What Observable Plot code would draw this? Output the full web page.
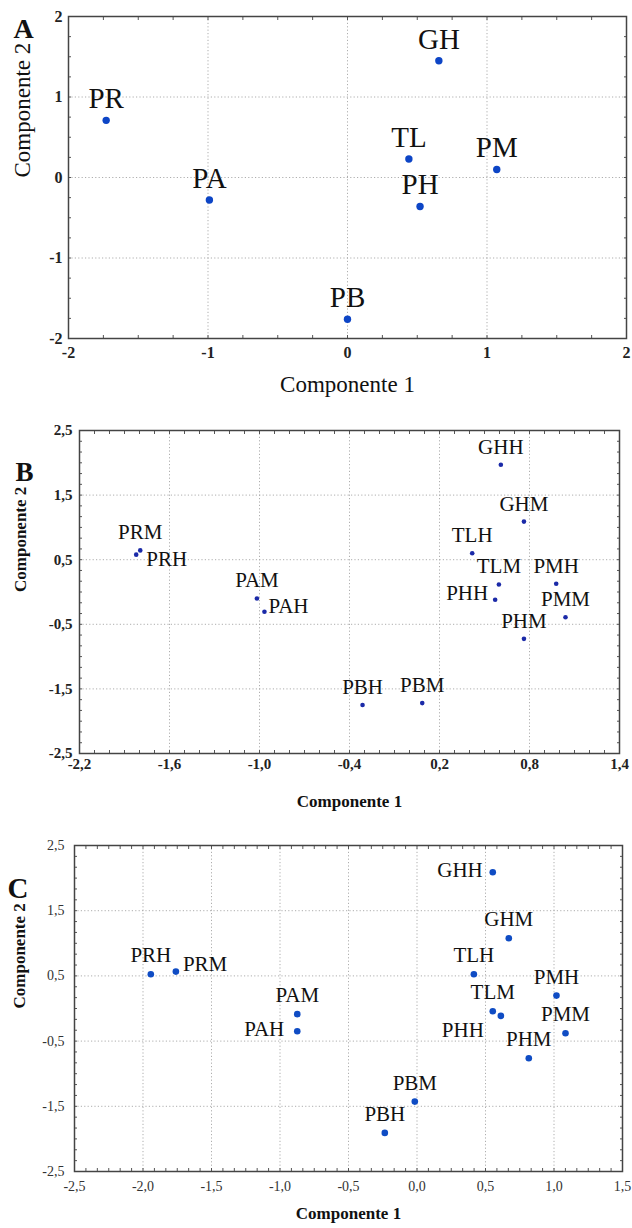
<!DOCTYPE html>
<html>
<head>
<meta charset="utf-8">
<script src="https://cdn.jsdelivr.net/npm/d3@7"></script>
<script src="https://cdn.jsdelivr.net/npm/@observablehq/plot@0.6"></script>
<style>
  html, body { margin: 0; padding: 0; background: #fff; }
  body { width: 632px; height: 1228px; position: relative; overflow: hidden; font-family: "Liberation Serif", "DejaVu Serif", serif; }
  .panel { position: absolute; left: 0; }
  .panel svg { display: block; font-family: "Liberation Serif", serif !important; }
</style>
</head>
<body>
<div id="pa" class="panel" style="top:0px"></div>
<div id="pb" class="panel" style="top:400px"></div>
<div id="pc" class="panel" style="top:815px"></div>
<script>
// ---------- Panel A data ----------
const labelsA = ["PR", "PA", "PB", "TL", "PH", "GH", "PM"];
const comp1A  = [-1.73, -0.99, 0.00, 0.44, 0.52, 0.655, 1.07];
const comp2A  = [0.71, -0.28, -1.76, 0.23, -0.36, 1.45, 0.10];
const ticksXA = [-2, -1, 0, 1, 2];
const ticksYA = [-2, -1, 0, 1, 2];

// ---------- Panel B data ----------
const labelsB = ["PRM", "PRH", "PAM", "PAH", "PBH", "PBM", "TLH", "TLM", "PHH", "PHM", "GHH", "GHM", "PMH", "PMM"];
const comp1B  = [-1.795, -1.822, -1.017, -0.967, -0.313, 0.085, 0.418, 0.596, 0.571, 0.763, 0.609, 0.763, 0.978, 1.04];
const comp2B  = [0.644, 0.578, -0.10, -0.306, -1.75, -1.72, 0.60, 0.117, -0.12, -0.725, 1.97, 1.09, 0.128, -0.39];
const ticksXB = [-2.2, -1.6, -1.0, -0.4, 0.2, 0.8, 1.4];
const ticksYB = [-2.5, -1.5, -0.5, 0.5, 1.5, 2.5];

// ---------- Panel C data ----------
const labelsC = ["PRM", "PRH", "PAM", "PAH", "PBH", "PBM", "TLH", "TLM", "PHH", "PHM", "GHH", "GHM", "PMH", "PMM"];
const comp1C  = [-1.76, -1.943, -0.874, -0.874, -0.235, -0.016, 0.415, 0.553, 0.612, 0.816, 0.553, 0.67, 1.018, 1.084];
const comp2C  = [0.566, 0.526, -0.087, -0.35, -1.908, -1.428, 0.526, -0.042, -0.113, -0.762, 2.09, 1.078, 0.198, -0.379];
const ticksXC = [-2.5, -2.0, -1.5, -1.0, -0.5, 0.0, 0.5, 1.0, 1.5];
const ticksYC = [-2.5, -1.5, -0.5, 0.5, 1.5, 2.5];

const axisTitleX = "Componente 1";
const axisTitleY = "Componente 2";

// ---------- styling (label placement etc.) ----------
const serif = "Liberation Serif";
const placeB = {
  PRH: {textAnchor: "start", dx: 10, dy: 5, lineAnchor: "middle"},
  PAH: {textAnchor: "start", dx: 4, dy: -6, lineAnchor: "middle"},
  PHH: {textAnchor: "end", dx: -7, dy: -6, lineAnchor: "middle"}
};
const placeC = {
  PRM: {textAnchor: "start", dx: 7, dy: -7, lineAnchor: "middle"},
  PAH: {textAnchor: "end", dx: -13, dy: -2, lineAnchor: "middle"},
  GHH: {textAnchor: "end", dx: -10, dy: -2, lineAnchor: "middle"},
  PHH: {textAnchor: "end", dx: -17, dy: 14, lineAnchor: "middle"}
};

const intFmt = d => String(d);
const commaFmt = d => d.toFixed(1).replace(".", ",");

function makePanel(cfg) {
  const rows = cfg.labels.map((n, i) => ({name: n, c1: cfg.c1[i], c2: cfg.c2[i]}));
  const [L, T, R, B] = cfg.margins;
  const labelMarks = rows.map(r => {
    const p = cfg.place[r.name] || {textAnchor: "middle", dx: 0, dy: cfg.aboveDy, lineAnchor: "bottom"};
    return Plot.text([r], {
      x: "c1", y: "c2", text: "name",
      textAnchor: p.textAnchor, lineAnchor: p.lineAnchor, dx: p.dx, dy: p.dy,
      fontSize: cfg.labelSize, fill: "#111", fontFamily: serif
    });
  });
  const minor = {tickSize: -3, tickFormat: () => "", stroke: "#555", label: null};
  return Plot.plot({
    width: 632,
    height: cfg.height,
    marginLeft: L, marginTop: T, marginRight: R, marginBottom: B,
    style: {fontFamily: serif, background: "#fff", overflow: "visible"},
    x: {domain: cfg.xDomain},
    y: {domain: cfg.yDomain},
    marks: [
      Plot.gridX(cfg.xTicks, {stroke: "#9a9a9a", strokeOpacity: 0.8, strokeDasharray: "1.2,2.2", strokeWidth: 1}),
      Plot.gridY(cfg.yTicks, {stroke: "#9a9a9a", strokeOpacity: 0.8, strokeDasharray: "1.2,2.2", strokeWidth: 1}),
      Plot.axisX(cfg.xMinor, {anchor: "bottom", ...minor}),
      Plot.axisX(cfg.xMinor, {anchor: "top", ...minor}),
      Plot.axisY(cfg.yMinor, {anchor: "left", ...minor}),
      Plot.axisY(cfg.yMinor, {anchor: "right", ...minor}),
      Plot.axisX(cfg.xTicks, {anchor: "bottom", tickSize: 0, tickPadding: cfg.xPad, tickFormat: cfg.fmt,
        fontSize: cfg.tickSize, fontWeight: cfg.tickWeight, fontFamily: serif, fill: cfg.tickFill, label: null}),
      Plot.axisY(cfg.yTicks, {anchor: "left", tickSize: 0, tickPadding: cfg.yPad, tickFormat: cfg.fmt,
        fontSize: cfg.tickSize, fontWeight: cfg.tickWeight, fontFamily: serif, fill: cfg.tickFill, label: null}),
      Plot.frame({stroke: "#444", strokeWidth: 1.5}),
      Plot.dot(rows, {x: "c1", y: "c2", r: cfg.dotR, fill: cfg.dotFill, stroke: "none"}),
      ...labelMarks,
      Plot.text([axisTitleX], {frameAnchor: "bottom", lineAnchor: "bottom", dy: cfg.xTitleDy,
        fontSize: cfg.titleSize, fontWeight: cfg.titleWeight, fontFamily: serif, fill: "#111"}),
      Plot.text([axisTitleY], {frameAnchor: "left", lineAnchor: "middle", rotate: -90, dx: cfg.yTitleDx,
        fontSize: cfg.titleSize, fontWeight: cfg.titleWeight, fontFamily: serif, fill: "#111"}),
      Plot.text([cfg.letter], {frameAnchor: "top-left", textAnchor: "start", lineAnchor: "bottom",
        dx: cfg.letterDx, dy: cfg.letterDy, fontSize: cfg.letterSize, fontWeight: "bold", fontFamily: serif, fill: "#111"})
    ]
  });
}

document.getElementById("pa").append(makePanel({
  labels: labelsA, c1: comp1A, c2: comp2A,
  xDomain: [-2, 2], yDomain: [-2, 2], xTicks: ticksXA, yTicks: ticksYA, fmt: intFmt,
  xMinor: d3.range(-2, 2.001, 0.25), yMinor: d3.range(-2, 2.001, 0.25),
  height: 400, margins: [68, 16, 6, 62],
  dotR: 3.7, dotFill: "#0d45c6", labelSize: 29, aboveDy: -12, place: {},
  tickSize: 16, tickWeight: "bold", tickFill: "#222", xPad: 8, yPad: 6,
  titleSize: 23, titleWeight: "normal", xTitleDy: 53, yTitleDx: -46,
  letter: "A", letterDx: -55, letterDy: 21, letterSize: 28
}));

document.getElementById("pb").append(makePanel({
  labels: labelsB, c1: comp1B, c2: comp2B,
  xDomain: [-2.2, 1.4], yDomain: [-2.5, 2.5], xTicks: ticksXB, yTicks: ticksYB, fmt: commaFmt,
  xMinor: d3.range(-2.2, 1.4001, 0.1), yMinor: d3.range(-2.5, 2.5001, 1/6),
  height: 415, margins: [79, 30, 13, 62],
  dotR: 2.3, dotFill: "#1b2aa8", labelSize: 21, aboveDy: -11, place: placeB,
  tickSize: 15, tickWeight: "bold", tickFill: "#222", xPad: 5, yPad: 7,
  titleSize: 17, titleWeight: "bold", xTitleDy: 53, yTitleDx: -59,
  letter: "B", letterDx: -64, letterDy: 50, letterSize: 27
}));

document.getElementById("pc").append(makePanel({
  labels: labelsC, c1: comp1C, c2: comp2C,
  xDomain: [-2.5, 1.5], yDomain: [-2.5, 2.5], xTicks: ticksXC, yTicks: ticksYC, fmt: commaFmt,
  xMinor: d3.range(-2.5, 1.5001, 0.5/6), yMinor: d3.range(-2.5, 2.5001, 1/6),
  height: 413, margins: [74, 30, 10, 57],
  dotR: 3.3, dotFill: "#0f4cc4", labelSize: 21, aboveDy: -12, place: placeC,
  tickSize: 14, tickWeight: "normal", tickFill: "#333", xPad: 10, yPad: 10,
  titleSize: 17, titleWeight: "bold", xTitleDy: 47, yTitleDx: -55,
  letter: "C", letterDx: -67, letterDy: 52, letterSize: 29
}));
</script>
</body>
</html>
